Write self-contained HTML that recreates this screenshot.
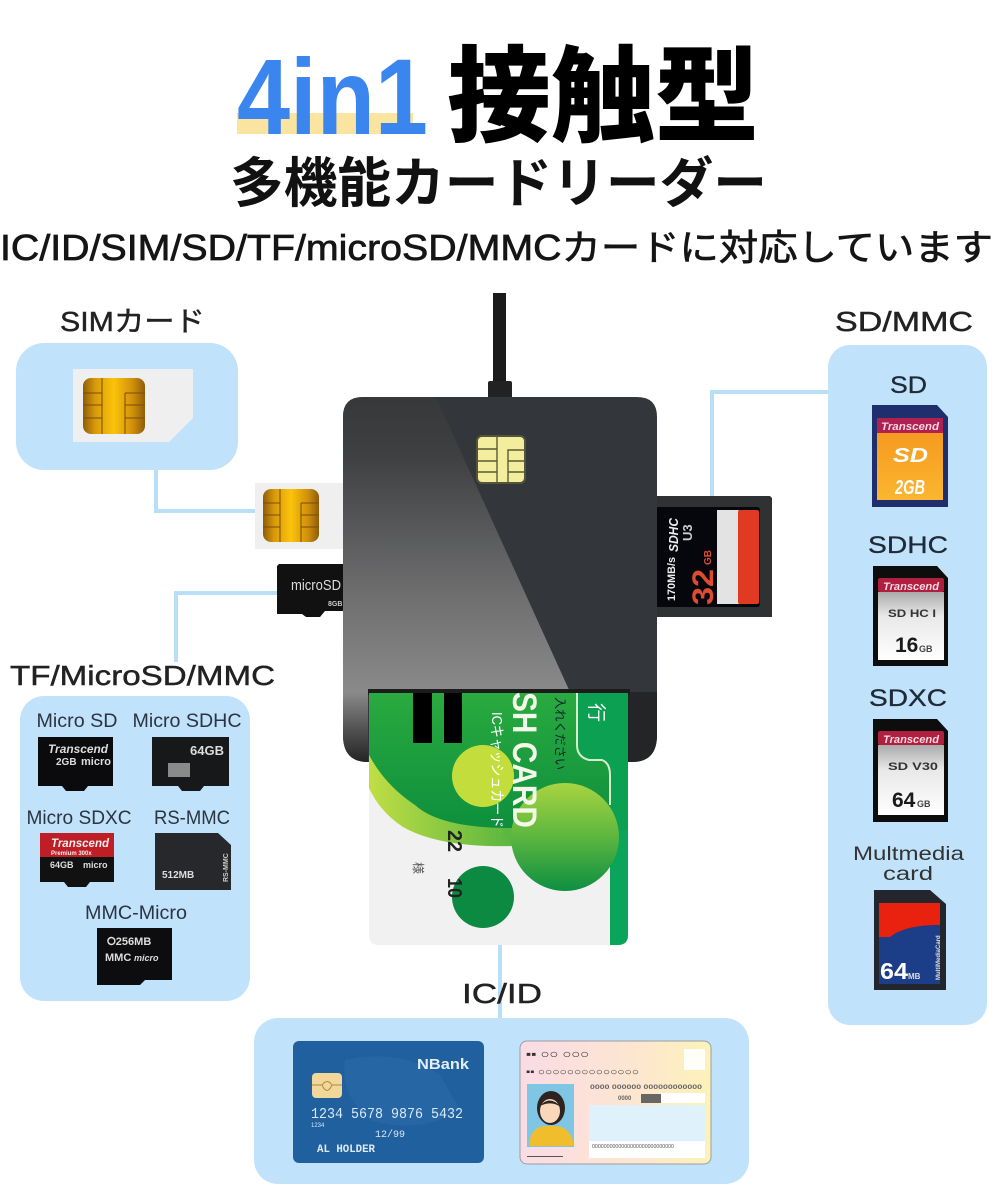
<!DOCTYPE html>
<html lang="ja"><head><meta charset="utf-8"><style>
html,body{margin:0;padding:0;background:#fff}
svg{display:block}
text{font-family:"Liberation Sans","Noto Sans CJK JP",sans-serif}
.h{font-size:28px;fill:#222;stroke:#222;stroke-width:.45px}
.s{font-size:19px;fill:#2b3440}
.m{font-size:24px;fill:#202a36;stroke:#202a36;stroke-width:.3px}
.c{text-anchor:middle}
</style></head><body>
<svg width="995" height="1200" viewBox="0 0 995 1200" xmlns="http://www.w3.org/2000/svg">
<defs>
<linearGradient id="wedge" gradientUnits="userSpaceOnUse" x1="0" y1="397" x2="0" y2="692"><stop offset="0" stop-color="#36383a"/><stop offset=".2" stop-color="#3f4042"/><stop offset=".7" stop-color="#717172"/><stop offset="1" stop-color="#8a8a8a"/></linearGradient>
<linearGradient id="band" gradientUnits="userSpaceOnUse" x1="0" y1="692" x2="0" y2="762"><stop offset="0" stop-color="#8a8a8a"/><stop offset=".5" stop-color="#555"/><stop offset="1" stop-color="#242424"/></linearGradient>
<linearGradient id="gold" x1="0" y1="0" x2="1" y2="0"><stop offset="0" stop-color="#8f5c08"/><stop offset=".2" stop-color="#d99a0a"/><stop offset=".5" stop-color="#fbc30a"/><stop offset=".8" stop-color="#d0900c"/><stop offset="1" stop-color="#8e5c0a"/></linearGradient>
<linearGradient id="orange" x1="0" y1="0" x2="0" y2="1"><stop offset="0" stop-color="#f59a20"/><stop offset="1" stop-color="#fbb630"/></linearGradient>
<linearGradient id="silver" x1="0" y1="0" x2="0" y2="1"><stop offset="0" stop-color="#aaa"/><stop offset=".35" stop-color="#e8e8e8"/><stop offset="1" stop-color="#fff"/></linearGradient>
<linearGradient id="idg" x1="0" y1="0" x2="1" y2="0"><stop offset="0" stop-color="#fadbe5"/><stop offset=".6" stop-color="#fde6d0"/><stop offset="1" stop-color="#fdf2b8"/></linearGradient>
<linearGradient id="lime" x1="0" y1="0" x2="0" y2="1"><stop offset="0" stop-color="#a8d440"/><stop offset=".5" stop-color="#5cb63f"/><stop offset="1" stop-color="#0d8f42"/></linearGradient>
<linearGradient id="arc" gradientUnits="userSpaceOnUse" x1="369" y1="0" x2="530" y2="0"><stop offset="0" stop-color="#c0de44"/><stop offset="1" stop-color="#4cb13f"/></linearGradient>
<linearGradient id="cg" gradientUnits="userSpaceOnUse" x1="0" y1="693" x2="0" y2="828"><stop offset="0" stop-color="#2aaa3f"/><stop offset="1" stop-color="#0e8f3d"/></linearGradient>
<clipPath id="cardclip"><path d="M369 693H628V935Q628 945 618 945H379Q369 945 369 935Z"/></clipPath>
</defs>

<!-- title -->
<rect x="237" y="113" width="176" height="21" fill="#fbe3a0"/>
<text x="237" y="134" font-size="108" font-weight="700" fill="#3a86ee" textLength="191" lengthAdjust="spacingAndGlyphs">4in1</text>
<text x="447" y="133" font-size="104" font-weight="900" fill="#000" textLength="312" lengthAdjust="spacingAndGlyphs">接触型</text>
<text x="230" y="202" font-size="54" font-weight="700" fill="#111" textLength="537" lengthAdjust="spacingAndGlyphs">多機能カードリーダー</text>
<text x="0" y="260" font-size="36" fill="#151515" stroke="#151515" stroke-width=".7" textLength="993" lengthAdjust="spacingAndGlyphs">IC/ID/SIM/SD/TF/microSD/MMCカードに対応しています</text>

<!-- connectors -->
<g fill="none" stroke="#b9dff8" stroke-width="4">
<path d="M156 468V511H256"/>
<path d="M280 593H176V662"/>
<path d="M830 392H712V497"/>
<path d="M500 940V1020"/>
</g>

<!-- panels -->
<g fill="#c0e2fb">
<rect x="16" y="343" width="222" height="127" rx="28"/>
<rect x="20" y="696" width="230" height="305" rx="24"/>
<rect x="828" y="345" width="159" height="680" rx="22"/>
<rect x="254" y="1018" width="495" height="166" rx="24"/>
</g>

<!-- headings -->
<text x="60" y="331" class="h" textLength="145" lengthAdjust="spacingAndGlyphs">SIMカード</text>
<text x="835" y="331" class="h" textLength="138" lengthAdjust="spacingAndGlyphs">SD/MMC</text>
<text x="10" y="685" class="h" textLength="265" lengthAdjust="spacingAndGlyphs">TF/MicroSD/MMC</text>
<text x="462" y="1003" class="h" textLength="80" lengthAdjust="spacingAndGlyphs">IC/ID</text>

<!-- SIM large -->
<path d="M73 369H193V418L169 442H73Z" fill="#efefef"/>
<rect x="83" y="378" width="62" height="56" rx="8" fill="url(#gold)"/>
<g stroke="#7a4c08" stroke-width="1" fill="none"><path d="M83 393H102M83 405H102M83 418H102M102 378V434M125 393V434M125 393H145M125 405H145M125 418H145"/></g>

<!-- cable -->
<rect x="493" y="293" width="13" height="92" fill="#1b1b1b"/>
<rect x="488" y="381" width="24" height="18" rx="2" fill="#222"/>

<!-- small sim + microSD behind device -->
<rect x="255" y="483" width="90" height="66" fill="#efefef"/>
<rect x="263" y="489" width="56" height="53" rx="8" fill="url(#gold)"/>
<g stroke="#7a4c08" stroke-width="1" fill="none"><path d="M263 503H280M263 515H280M263 527H280M280 489V542M301 503V542M301 503H319M301 515H319M301 527H319"/></g>
<path d="M279 564H345V611H325L320 617H306L302 614H277V566Z" fill="#111"/>
<text x="291" y="590" font-size="15" fill="#ddd" textLength="50" lengthAdjust="spacingAndGlyphs">microSD</text>
<text x="328" y="606" font-size="7" font-weight="700" fill="#ccc">8GB</text>

<!-- SD in device -->
<path d="M655 496H770L772 498V617H655Z" fill="#303133"/>
<rect x="655" y="507" width="105" height="100" rx="3" fill="#05070d"/>
<rect x="717" y="510" width="22" height="94" fill="#e3e3e3"/>
<rect x="738" y="510" width="21" height="94" rx="2" fill="#e03a22"/>
<g transform="translate(713 605) rotate(-90)"><text x="0" y="0" font-size="30" font-weight="700" fill="#e04a30" textLength="36" lengthAdjust="spacingAndGlyphs">32</text><text x="40" y="-2" font-size="10" font-weight="700" fill="#e04a30">GB</text></g>
<g transform="translate(675 601) rotate(-90)"><text x="0" y="0" font-size="11" font-weight="700" fill="#eee" textLength="44" lengthAdjust="spacingAndGlyphs">170MB/s</text></g>
<g transform="translate(678 552) rotate(-90)"><text x="0" y="0" font-size="13" font-weight="700" font-style="italic" fill="#eee" textLength="34" lengthAdjust="spacingAndGlyphs">SDHC</text></g>
<g transform="translate(692 541) rotate(-90)"><text x="0" y="0" font-size="13" font-weight="700" fill="#ccc">U3</text></g>

<!-- device body -->
<path d="M343 417Q343 397 363 397H637Q657 397 657 417V735Q657 762 632 762H368Q343 762 343 735Z" fill="#33363a"/>
<path d="M343 417Q343 397 363 397H436L570 692H343Z" fill="url(#wedge)"/>
<path d="M343 692H368V762Q343 762 343 735Z" fill="url(#band)"/>
<path d="M628 692H657V735Q657 762 632 762H628Z" fill="#242526"/>
<rect x="368" y="689" width="262" height="6" fill="#1c1c1c"/>

<!-- chip -->
<rect x="477" y="436" width="48" height="47" rx="5" fill="#f3ed9e" stroke="#55533a" stroke-width="2"/>
<g stroke="#5a5a32" stroke-width="1.4" fill="none"><path d="M478 449H497M478 461H497M478 472H497M497 436V483M508 483V450H525M508 461H525M508 472H525"/></g>

<!-- cash card -->
<g clip-path="url(#cardclip)">
<rect x="369" y="693" width="259" height="252" fill="#f1f1f1"/>
<path d="M369 693H628V830H560L513 846Q440 848 403 827Q380 812 369 788Z" fill="url(#arc)"/>
<path d="M369 693H628V828H510Q440 828 415 805Q385 785 369 755Z" fill="url(#cg)"/>
<rect x="610" y="760" width="18" height="185" fill="#0aa45a"/>
<path d="M578 693V745Q578 757 590 760H603Q610 763 610 775V830H628V693Z" fill="#0ba052"/>
<path d="M577 693V745Q577 757 589 760H602Q610 763 610 775V805" fill="none" stroke="#d6eeca" stroke-width="2"/>
<rect x="413" y="693" width="19" height="50" fill="#000"/>
<rect x="444" y="693" width="18" height="50" fill="#000"/>
<circle cx="483" cy="776" r="31" fill="#c3de3c"/>
<circle cx="565" cy="837" r="54" fill="url(#lime)"/>
<circle cx="483" cy="897" r="31" fill="#0c8a41"/>
<g transform="translate(513 692) rotate(90)"><text x="0" y="0" font-size="34" font-weight="700" fill="#f4f8e8" textLength="136" lengthAdjust="spacingAndGlyphs">SH CARD</text></g>
<g transform="translate(492 712) rotate(90)"><text x="0" y="0" font-size="15" fill="#fff" textLength="116" lengthAdjust="spacingAndGlyphs">ICキャッシュカード</text></g>
<g transform="translate(556 697) rotate(90)"><text x="0" y="0" font-size="12" fill="#123" textLength="73" lengthAdjust="spacingAndGlyphs">入れください</text></g>
<g transform="translate(590 703) rotate(90)"><text x="0" y="0" font-size="19" fill="#fff">行</text></g>
<g transform="translate(448 830) rotate(90)"><text x="0" y="0" font-size="20" font-weight="700" fill="#222" textLength="22" lengthAdjust="spacingAndGlyphs">22</text></g>
<g transform="translate(448 878) rotate(90)"><text x="0" y="0" font-size="20" font-weight="700" fill="#222" textLength="20" lengthAdjust="spacingAndGlyphs">10</text></g>
<g transform="translate(414 862) rotate(90)"><text x="0" y="0" font-size="12" fill="#555">様</text></g>
</g>

<!-- TF panel items -->
<text x="77" y="727" class="s" text-anchor="middle" textLength="81" lengthAdjust="spacingAndGlyphs">Micro SD</text>
<text x="187" y="727" class="s" text-anchor="middle" textLength="109" lengthAdjust="spacingAndGlyphs">Micro SDHC</text>
<text x="79" y="824" class="s" text-anchor="middle" textLength="105" lengthAdjust="spacingAndGlyphs">Micro SDXC</text>
<text x="192" y="824" class="s" text-anchor="middle" textLength="76" lengthAdjust="spacingAndGlyphs">RS-MMC</text>
<text x="136" y="919" class="s" text-anchor="middle" textLength="102" lengthAdjust="spacingAndGlyphs">MMC-Micro</text>

<path d="M38 737H113V786H88L84 791H66L62 786H38Z" fill="#0b0b0d"/>
<text x="48" y="753" font-size="12" font-weight="700" font-style="italic" fill="#ddd" textLength="60" lengthAdjust="spacingAndGlyphs">Transcend</text>
<text x="56" y="765" font-size="10" font-weight="700" fill="#ddd">2GB</text>
<text x="81" y="765" font-size="11" font-weight="700" fill="#ddd">micro</text>

<path d="M152 737H229V786H204L200 791H182L178 786H152Z" fill="#17181a"/>
<text x="190" y="755" font-size="13" font-weight="700" fill="#ddd">64GB</text>
<rect x="168" y="763" width="22" height="14" fill="#bbb" opacity=".7"/>

<path d="M40 833H114V882H90L86 887H68L64 882H40Z" fill="#111"/>
<path d="M40 833H114V857H40Z" fill="#c01e26"/>
<text x="51" y="847" font-size="12" font-weight="700" font-style="italic" fill="#eee" textLength="58" lengthAdjust="spacingAndGlyphs">Transcend</text>
<text x="51" y="855" font-size="6" font-weight="700" fill="#eee">Premium 300x</text>
<text x="50" y="868" font-size="9" font-weight="700" fill="#ddd">64GB</text>
<text x="83" y="868" font-size="9" font-weight="700" fill="#ddd">micro</text>

<path d="M155 833H218L231 845V890H155Z" fill="#26282c"/>
<text x="162" y="878" font-size="10" font-weight="700" fill="#ddd">512MB</text>
<g transform="translate(228 882) rotate(-90)"><text x="0" y="0" font-size="7" font-weight="700" fill="#ccc">RS-MMC</text></g>

<path d="M97 928H172V980H145L140 985H97Z" fill="#0d0d0f"/>
<text x="107" y="945" font-size="11" font-weight="700" fill="#ddd">⭘256MB</text>
<text x="105" y="961" font-size="11" font-weight="700" fill="#ddd">MMC</text>
<text x="134" y="961" font-size="9" font-weight="700" font-style="italic" fill="#ddd">micro</text>

<!-- SD panel items -->
<text x="890" y="393" class="m" textLength="37" lengthAdjust="spacingAndGlyphs">SD</text>
<text x="868" y="553" class="m" textLength="80" lengthAdjust="spacingAndGlyphs">SDHC</text>
<text x="869" y="706" class="m" textLength="78" lengthAdjust="spacingAndGlyphs">SDXC</text>
<text x="853" y="860" font-size="19" fill="#333" textLength="111" lengthAdjust="spacingAndGlyphs">Multmedia</text>
<text x="883" y="880" font-size="19" fill="#333" textLength="50" lengthAdjust="spacingAndGlyphs">card</text>

<path d="M872 405H937L948 417V507H872Z" fill="#1f2f6e"/>
<rect x="877" y="418" width="66" height="15" fill="#b02050"/>
<text x="881" y="430" font-size="11" font-weight="700" font-style="italic" fill="#f3d8df" textLength="58" lengthAdjust="spacingAndGlyphs">Transcend</text>
<rect x="877" y="433" width="66" height="67" fill="url(#orange)"/>
<text x="893" y="462" font-size="20" font-weight="700" font-style="italic" fill="#fff" textLength="35" lengthAdjust="spacingAndGlyphs">SD</text>
<text x="895" y="494" font-size="20" font-weight="700" font-style="italic" fill="#fff" textLength="30" lengthAdjust="spacingAndGlyphs">2GB</text>

<path d="M873 566H937L948 578V666H873Z" fill="#0d0d0d"/>
<rect x="878" y="578" width="66" height="14" rx="2" fill="#b01e40"/>
<text x="883" y="590" font-size="11" font-weight="700" font-style="italic" fill="#f3d8df" textLength="56" lengthAdjust="spacingAndGlyphs">Transcend</text>
<rect x="878" y="592" width="66" height="68" fill="url(#silver)"/>
<text x="888" y="617" font-size="11" font-weight="700" fill="#333" textLength="48" lengthAdjust="spacingAndGlyphs">SD HC I</text>
<text x="895" y="652" font-size="21" font-weight="700" fill="#1a1a1a">16</text>
<text x="919" y="652" font-size="9" font-weight="700" fill="#444">GB</text>

<path d="M873 719H937L948 731V822H873Z" fill="#0d0d0d"/>
<rect x="878" y="731" width="66" height="14" rx="2" fill="#b01e40"/>
<text x="883" y="743" font-size="11" font-weight="700" font-style="italic" fill="#f3d8df" textLength="56" lengthAdjust="spacingAndGlyphs">Transcend</text>
<rect x="878" y="745" width="66" height="70" fill="url(#silver)"/>
<text x="888" y="770" font-size="11" font-weight="700" fill="#333" textLength="50" lengthAdjust="spacingAndGlyphs">SD V30</text>
<text x="892" y="807" font-size="21" font-weight="700" fill="#1a1a1a">64</text>
<text x="917" y="807" font-size="9" font-weight="700" fill="#444">GB</text>

<path d="M874 890H930L946 904V990H874Z" fill="#23272d"/>
<path d="M879 903H940V925Q905 925 890 937H879Z" fill="#e8220f"/>
<path d="M879 937H890Q905 925 940 925V984H879Z" fill="#1c3d88"/>
<text x="880" y="979" font-size="23" font-weight="700" fill="#fff" textLength="28" lengthAdjust="spacingAndGlyphs">64</text>
<text x="908" y="979" font-size="8" font-weight="700" fill="#ddd">MB</text>
<g transform="translate(940 980) rotate(-90)"><text x="0" y="0" font-size="6" font-weight="700" fill="#ddd">MultiMediaCard</text></g>

<!-- bank card -->
<rect x="293" y="1041" width="191" height="122" rx="6" fill="#20609f"/>
<path d="M345 1060Q400 1048 440 1075L460 1110Q420 1135 370 1120Q340 1095 345 1060Z" fill="#2766a4"/>
<text x="417" y="1069" font-size="15" font-weight="700" fill="#e4eef6" textLength="52" lengthAdjust="spacingAndGlyphs">NBank</text>
<rect x="312" y="1073" width="30" height="25" rx="4" fill="#f2d79a"/>
<path d="M312 1085H322Q327 1078 332 1085H342M322 1085Q327 1096 332 1085" fill="none" stroke="#b08a40" stroke-width="1"/>
<text x="311" y="1118" font-size="15" fill="#d8e8f5" textLength="152" lengthAdjust="spacingAndGlyphs" style="font-family:'Liberation Mono',monospace">1234 5678 9876 5432</text>
<text x="311" y="1127" font-size="6" fill="#d8e8f5">1234</text>
<text x="375" y="1137" font-size="10" fill="#d8e8f5" style="font-family:'Liberation Mono',monospace">12/99</text>
<text x="317" y="1152" font-size="11" font-weight="700" fill="#e0ecf5" textLength="58" lengthAdjust="spacingAndGlyphs" style="font-family:'Liberation Mono',monospace">AL HOLDER</text>

<!-- ID card -->
<rect x="520" y="1041" width="191" height="123" rx="7" fill="url(#idg)" stroke="#9a9ea3" stroke-width="1"/>
<text x="526" y="1058" font-size="12" fill="#333" textLength="63" lengthAdjust="spacingAndGlyphs">▪▪ ○○ ○○○</text>
<text x="526" y="1075" font-size="10" fill="#333" textLength="113" lengthAdjust="spacingAndGlyphs">▪▪ ○○○○○○○○○○○○○○</text>
<rect x="684" y="1049" width="21" height="21" fill="#fff" opacity=".9"/>
<rect x="527" y="1084" width="47" height="63" fill="#7fc6e4"/>
<path d="M529 1146Q530 1127 545 1126H556Q571 1127 574 1146Z" fill="#f0bd2c"/>
<ellipse cx="551" cy="1108" rx="14" ry="17" fill="#2d2320"/>
<ellipse cx="550" cy="1111" rx="10" ry="12" fill="#f8d7bb"/>
<path d="M540 1106Q550 1094 562 1108Q552 1100 540 1106Z" fill="#2d2320"/>
<text x="590" y="1089" font-size="6" font-weight="700" fill="#666" textLength="112" lengthAdjust="spacingAndGlyphs">0000 000000 000000000000</text>
<text x="618" y="1100" font-size="6" font-weight="700" fill="#666">0000</text>
<rect x="641" y="1094" width="20" height="9" fill="#666"/>
<rect x="661" y="1093" width="44" height="10" fill="#fff"/>
<rect x="589" y="1105" width="116" height="36" fill="#dff2fb"/>
<rect x="589" y="1141" width="116" height="17" fill="#fff"/>
<text x="592" y="1148" font-size="5" fill="#555" textLength="82" lengthAdjust="spacingAndGlyphs">0000000000000000000000000000</text>
<rect x="527" y="1156" width="36" height="1" fill="#555"/>
</svg>
</body></html>
